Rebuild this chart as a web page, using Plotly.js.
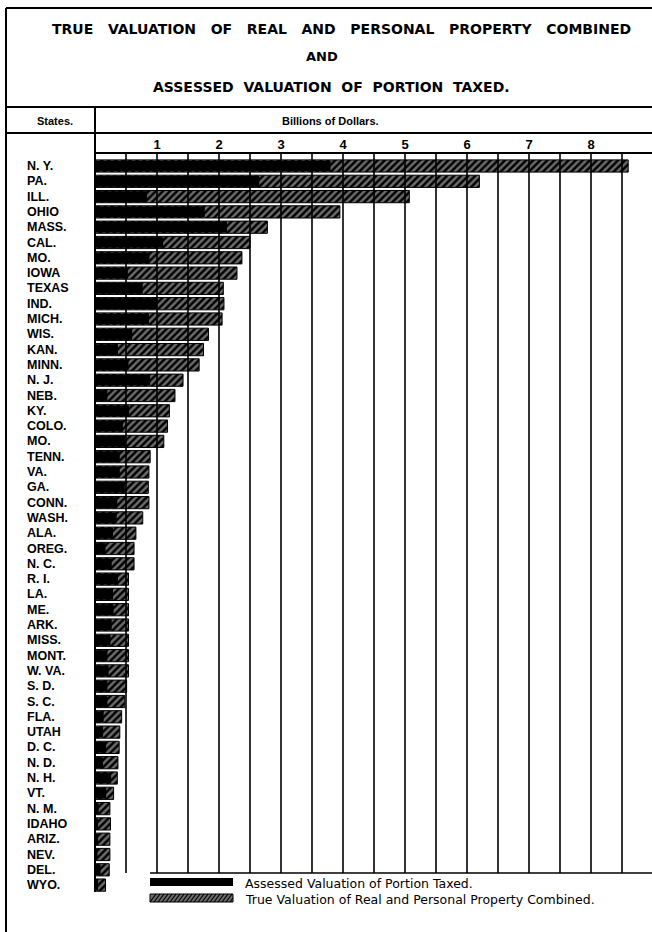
<!DOCTYPE html>
<html><head><meta charset="utf-8">
<script src="https://cdn.plot.ly/plotly-3.0.1.min.js"></script>
<style>html,body{margin:0;padding:0;background:#fff;} #chart{width:652px;height:932px;}</style>
</head><body><div id="chart"></div>
<script>
// ---- data (billions of dollars) ----
const states = ['N. Y.','PA.','ILL.','OHIO','MASS.','CAL.','MO.','IOWA','TEXAS','IND.','MICH.','WIS.','KAN.','MINN.','N. J.','NEB.','KY.','COLO.','MO.','TENN.','VA.','GA.','CONN.','WASH.','ALA.','OREG.','N. C.','R. I.','LA.','ME.','ARK.','MISS.','MONT.','W. VA.','S. D.','S. C.','FLA.','UTAH','D. C.','N. D.','N. H.','VT.','N. M.','IDAHO','ARIZ.','NEV.','DEL.','WYO.'];
const trueValuation = [8.60,6.20,5.07,3.95,2.78,2.50,2.37,2.29,2.07,2.08,2.05,1.83,1.75,1.68,1.42,1.29,1.20,1.17,1.11,0.89,0.87,0.86,0.87,0.77,0.66,0.63,0.63,0.54,0.54,0.54,0.54,0.54,0.54,0.54,0.51,0.48,0.43,0.40,0.39,0.37,0.36,0.30,0.24,0.25,0.24,0.24,0.23,0.17];
const assessedValuation = [3.80,2.65,0.84,1.77,2.13,1.10,0.88,0.53,0.77,1.00,0.87,0.60,0.37,0.54,0.89,0.20,0.55,0.45,0.49,0.40,0.40,0.48,0.36,0.35,0.29,0.17,0.27,0.37,0.29,0.30,0.27,0.25,0.20,0.22,0.20,0.20,0.14,0.13,0.18,0.13,0.26,0.18,0.06,0.05,0.05,0.04,0.09,0.05];
const tickValues = [1,2,3,4,5,6,7,8];
const tickLabels = ['1','2','3','4','5','6','7','8'];
const titleLines = ['TRUE   VALUATION   OF   REAL   AND   PERSONAL   PROPERTY   COMBINED','AND','ASSESSED  VALUATION  OF  PORTION  TAXED.'];
const legendLabels = ['Assessed Valuation of Portion Taxed.','True Valuation of Real and Personal Property Combined.'];

// ---- geometry helpers (pixels -> paper) ----
const W=652, H=932, L=95, R=652, T=153, B=900;
const PXPERUNIT = 62;
const XMAX = (R-L)/PXPERUNIT;
const px = x => (x-L)/(R-L);
const py = y => (B-y)/(B-T);
const rowTop = 166, rowStep = 15.3;
const yTopIdx = (T-rowTop)/rowStep, yBotIdx = (B-rowTop)/rowStep;
const idx = states.map((s,i)=>i);
const GRID_BOTTOM = 873;

const hatch = {shape:'/', fgcolor:'#000', bgcolor:'#6c6c6c', size:5, solidity:0.5};

const traces = [
  {type:'bar', orientation:'h', name:legendLabels[1], x:trueValuation, y:idx, width:0.8,
   marker:{color:'#6c6c6c', pattern:hatch, line:{color:'#000', width:1}}, showlegend:false, hoverinfo:'skip'},
  {type:'bar', orientation:'h', name:legendLabels[0], x:assessedValuation, y:idx, width:0.7,
   marker:{color:'#000', line:{width:0}}, showlegend:false, hoverinfo:'skip'}
];

const shapes = [];
const LW = 1.6;
function pline(x0,y0,x1,y1,w){ shapes.push({type:'line', xref:'paper', yref:'paper', x0:px(x0), y0:py(y0), x1:px(x1), y1:py(y1), line:{color:'#000', width:w||LW}}); }
// grid lines every 0.5 billion
for (let v=0.5; v<XMAX; v+=0.5){
  shapes.push({type:'line', xref:'x', yref:'paper', x0:v, x1:v, y0:py(GRID_BOTTOM), y1:py(T), line:{color:'#000', width:LW}});
}
// frame
pline(6,8,652,8,2);
pline(6,8,6,932,2);
pline(6,107,652,107,2);
pline(6,133,652,133,2);
pline(95,107,95,892,2);
pline(95,T,652,T,2);
pline(150,GRID_BOTTOM,652,GRID_BOTTOM,1.6);
// legend swatches
shapes.push({type:'rect', xref:'paper', yref:'paper', x0:px(150), x1:px(233), y0:py(886), y1:py(878), fillcolor:'#000', line:{width:0}});
shapes.push({type:'rect', xref:'paper', yref:'paper', x0:px(150), x1:px(233), y0:py(902), y1:py(894), fillcolor:'#6c6c6c', line:{color:'#000', width:1}});
let hp = '';
for (let sx=150; sx<233; sx+=4){
  const x0=sx, x1=Math.min(sx+6,233);
  const y0=902, y1=902-(x1-x0)*8/6;
  hp += `M${px(x0)},${py(y0)}L${px(x1)},${py(y1)}`;
}
shapes.push({type:'path', xref:'paper', yref:'paper', path:hp, line:{color:'#000', width:1.2}});

const annotations = [];
const titleFont = {family:'DejaVu Sans', size:14, color:'#000', weight:'bold'};
annotations.push({xref:'paper', yref:'paper', x:px(341), y:py(29), text:titleLines[0], showarrow:false, font:titleFont, xanchor:'center', yanchor:'middle'});
annotations.push({xref:'paper', yref:'paper', x:px(322), y:py(57), text:titleLines[1], showarrow:false, font:{...titleFont, size:13}, xanchor:'center', yanchor:'middle'});
annotations.push({xref:'paper', yref:'paper', x:px(331), y:py(87), text:titleLines[2], showarrow:false, font:titleFont, xanchor:'center', yanchor:'middle'});
const hdrFont = {family:'Liberation Sans', size:11, color:'#000', weight:'bold'};
annotations.push({xref:'paper', yref:'paper', x:px(55), y:py(121), text:'States.', showarrow:false, font:hdrFont, xanchor:'center', yanchor:'middle'});
annotations.push({xref:'paper', yref:'paper', x:px(330), y:py(121), text:'Billions of Dollars.', showarrow:false, font:hdrFont, xanchor:'center', yanchor:'middle'});
const stFont = {family:'Liberation Sans', size:12.5, color:'#000', weight:'bold'};
states.forEach((s,i)=>{
  annotations.push({xref:'paper', yref:'y', x:px(25), y:i, text:s, showarrow:false, font:stFont, xanchor:'left', yanchor:'middle'});
});
const lgFont = {family:'DejaVu Sans', size:12.5, color:'#000'};
annotations.push({xref:'paper', yref:'paper', x:px(243), y:py(883), text:legendLabels[0], showarrow:false, font:lgFont, xanchor:'left', yanchor:'middle'});
annotations.push({xref:'paper', yref:'paper', x:px(243), y:py(899), text:legendLabels[1], showarrow:false, font:lgFont, xanchor:'left', yanchor:'middle'});

const layout = {
  width:W, height:H, margin:{l:L, r:W-R, t:T, b:H-B},
  paper_bgcolor:'#fff', plot_bgcolor:'rgba(0,0,0,0)',
  barmode:'overlay', showlegend:false,
  xaxis:{range:[0,XMAX], side:'top', tickmode:'array', tickvals:tickValues, ticktext:tickLabels,
         showgrid:false, zeroline:false, showline:false, ticks:'', fixedrange:true,
         tickfont:{family:'Liberation Sans', size:13, color:'#000', weight:'bold'}},
  yaxis:{range:[yBotIdx, yTopIdx], showticklabels:false, showgrid:false, zeroline:false, showline:false, ticks:'', fixedrange:true},
  shapes:shapes, annotations:annotations
};
Plotly.newPlot('chart', traces, layout, {displayModeBar:false, staticPlot:true});
</script></body></html>
